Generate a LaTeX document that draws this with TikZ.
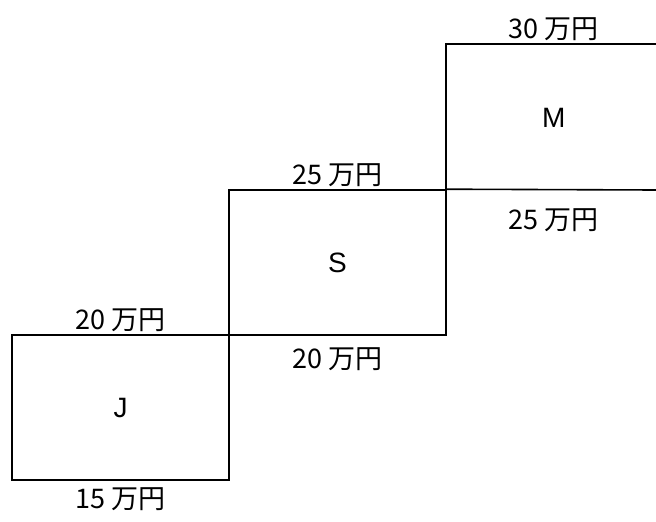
\documentclass[tikz,border=0pt]{standalone}
\usepackage{fontspec}
\setmainfont{Liberation Sans}
\newfontfamily\jfont{Noto Sans CJK JP}
\usetikzlibrary{positioning}

\tikzset{
  tier/.style={inner sep=0pt, minimum width=217pt, minimum height=145pt,
    font=\fontsize{28}{28}\selectfont},
  price/.style={inner sep=0pt, font=\jfont\fontsize{27}{27}\selectfont}
}

\begin{document}
\begin{tikzpicture}[x=1pt,y=-1pt,line width=1.6pt]
\useasboundingbox (0,0) rectangle (656,522);
% the three steps
\node[tier,draw] (J) at (120.5,407.5) {J};
\node[tier,draw] (S) at (337.5,262.5) {S};
\node[tier,minimum width=214pt,minimum height=146pt,anchor=north west] (M) at (446,44) {M};
\coordinate (Mtop) at (656,44);
\coordinate (Mbot) at (656,190);
\draw (Mtop) -- (M.north west) -- (M.south west);
\draw (S.north east) -- (Mbot);
% prices
\node[price,above=2pt of J.north] (Jhi) {20 万円};
\node[price,below=6pt of J.south] (Jlo) {15 万円};
\node[price,above=2pt of S.north] (Shi) {25 万円};
\node[price,below=11pt of S.south] (Slo) {20 万円};
\node[price,above=2pt of M.north] (Mhi) {30 万円};
\node[price,below=16pt of M.south] (Mlo) {25 万円};
\end{tikzpicture}
\end{document}
